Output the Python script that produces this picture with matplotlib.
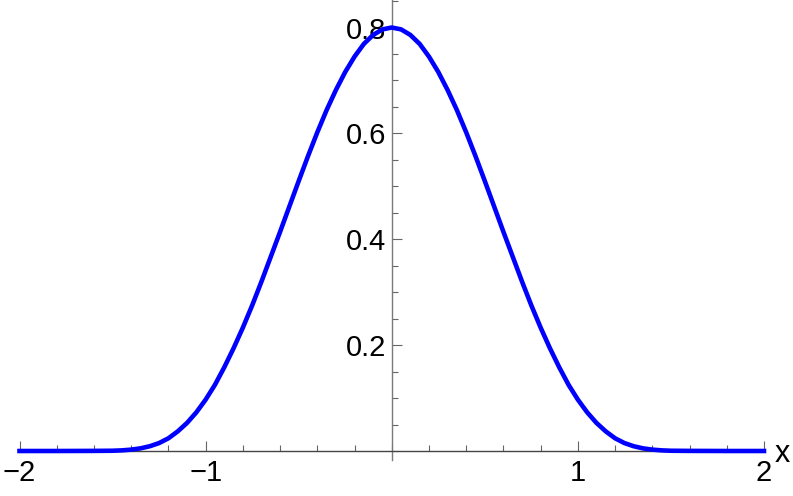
import matplotlib
matplotlib.use('Agg')
import matplotlib.pyplot as plt
from matplotlib.ticker import MultipleLocator

# values (symmetric about x = 0)
xs = [-2.0, -1.9, -1.8, -1.7, -1.6, -1.5, -1.45, -1.4, -1.35, -1.3,
      -1.25, -1.2, -1.15, -1.1, -1.05, -1.0, -0.95, -0.9, -0.85, -0.8,
      -0.75, -0.7, -0.65, -0.6, -0.55, -0.5, -0.45, -0.4, -0.35, -0.3,
      -0.25, -0.2, -0.15, -0.1, -0.05,
      0.0,
      0.05, 0.1, 0.15, 0.2, 0.25, 0.3, 0.35, 0.4, 0.45, 0.5,
      0.55, 0.6, 0.65, 0.7, 0.75, 0.8, 0.85, 0.9, 0.95, 1.0,
      1.05, 1.1, 1.15, 1.2, 1.25, 1.3, 1.35, 1.4, 1.45, 1.5,
      1.6, 1.7, 1.8, 1.9, 2.0]
ys = [0.0, 0.0, 0.0, 0.0001, 0.0002, 0.0005, 0.0012, 0.0026, 0.005, 0.009,
      0.015, 0.024, 0.037, 0.053, 0.073, 0.097, 0.125, 0.158, 0.194, 0.233,
      0.275, 0.320, 0.367, 0.414, 0.462, 0.510, 0.557, 0.602, 0.644, 0.682,
      0.716, 0.745, 0.769, 0.786, 0.7965,
      0.800,
      0.7965, 0.786, 0.769, 0.745, 0.716, 0.682, 0.644, 0.602, 0.557, 0.510,
      0.462, 0.414, 0.367, 0.320, 0.275, 0.233, 0.194, 0.158, 0.125, 0.097,
      0.073, 0.053, 0.037, 0.024, 0.015, 0.009, 0.005, 0.0026, 0.0012, 0.0005,
      0.0002, 0.0001, 0.0, 0.0, 0.0]

xtick_vals = [-2, -1, 1, 2]
xtick_text = ['\u22122', '\u22121', '1', '2']
ytick_vals = [0.2, 0.4, 0.6, 0.8]
ytick_text = ['0.2', '0.4', '0.6', '0.8']

plt.rcParams['font.family'] = ['Liberation Sans', 'DejaVu Sans']

fig = plt.figure(figsize=(7.93, 4.96), dpi=100)
ax = fig.add_axes([19.5 / 793, 36 / 496, 744.5 / 793, 460 / 496])

ax.plot(xs, ys, color='#0000ff', lw=3.3, clip_on=False, zorder=3)

ax.set_xlim(-2, 2)
ax.set_ylim(-0.017, 0.852)

for s in ['top', 'right']:
    ax.spines[s].set_visible(False)
ax.spines['left'].set_position(('data', 0))
ax.spines['bottom'].set_position(('data', 0))
ax.spines['left'].set_color('#7a7a7a')
ax.spines['bottom'].set_color('#444444')
ax.spines['left'].set_linewidth(1.0)
ax.spines['bottom'].set_linewidth(1.0)

ax.set_xticks(xtick_vals)
ax.set_xticklabels(xtick_text)
ax.set_yticks(ytick_vals)
ax.set_yticklabels(ytick_text)
ax.xaxis.set_minor_locator(MultipleLocator(0.2))
ax.yaxis.set_minor_locator(MultipleLocator(0.05))

ax.tick_params(which='both', direction='in', color='#666666', width=0.8,
               labelsize=21, labelcolor='black')
ax.tick_params(which='major', length=7)
ax.tick_params(which='minor', length=4.5)
ax.tick_params(axis='x', which='major', pad=6)
ax.tick_params(axis='y', which='major', pad=4)

ax.text(2.057, -0.0217, 'x', fontsize=22, ha='left', va='baseline',
        clip_on=False)

fig.savefig('out.png', dpi=100)
